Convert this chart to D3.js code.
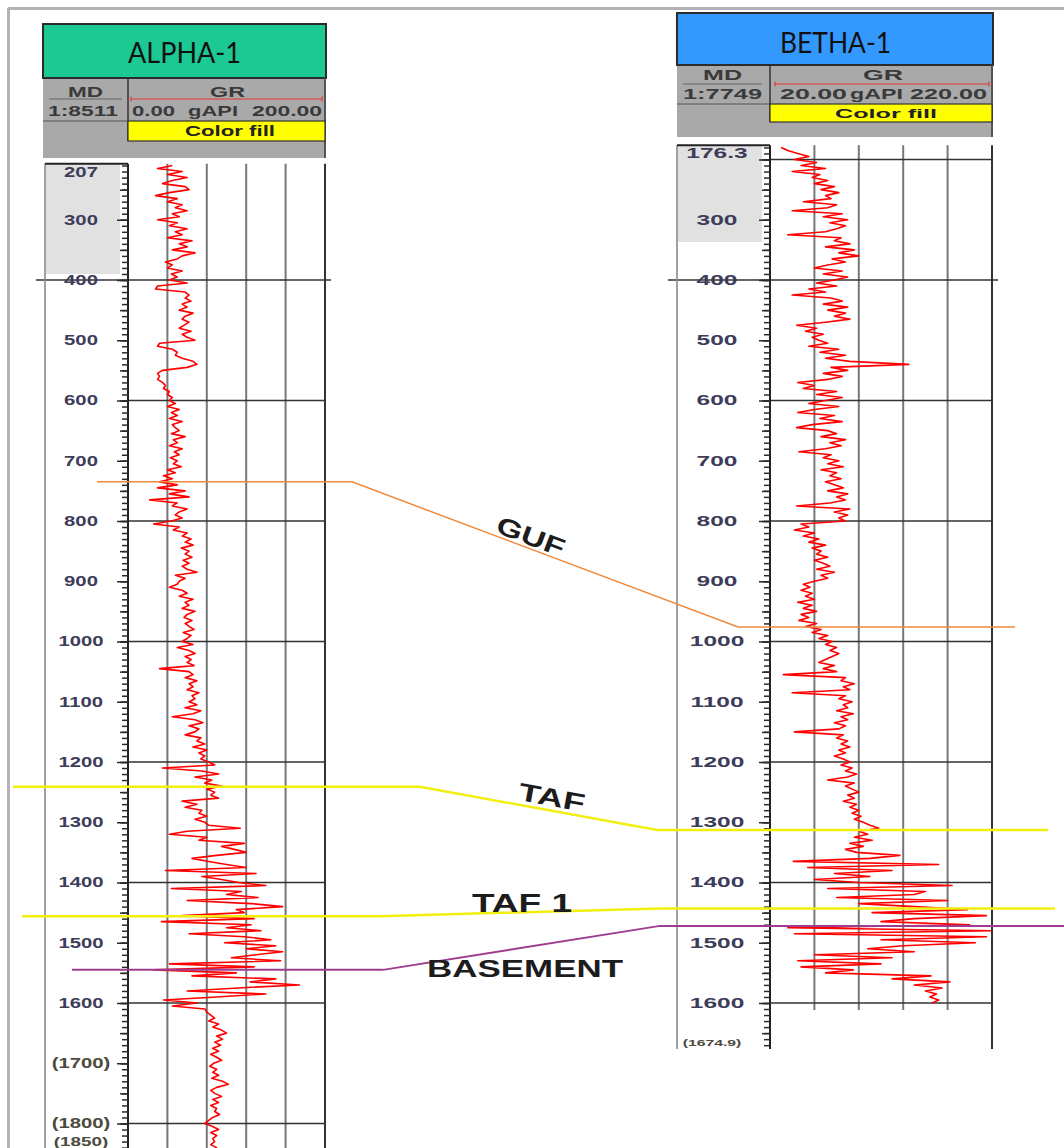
<!DOCTYPE html>
<html>
<head>
<meta charset="utf-8">
<script src="https://cdn.jsdelivr.net/npm/d3@7"></script>
<style>
  html, body { margin: 0; padding: 0; background: #fff; }
  svg { display: block; }
</style>
</head>
<body>
<svg id="chart" width="1064" height="1148"></svg>
<script>
// --- données ---
// GR (gAPI) échantillonné tous les 5 m
const sampleStep = 5
const alphaStart = 210
const alphaGR = [
  45, 30, 55, 40, 60, 45, 35, 58, 62, 42, 28, 50, 40, 55, 48, 60, 45, 52, 30, 50,
  42, 60, 48, 55, 40, 65, 52, 60, 45, 68, 55, 50, 38, 45, 40, 55, 44, 50, 42,
  60, 30, 28, 58, 62, 58, 64, 55, 60, 52, 66, 58, 55, 62, 57, 52, 64, 55, 60, 68,
  32, 30, 45, 50, 48, 55, 66, 70, 60, 35, 30, 32, 30, 35, 38, 36, 42, 40, 45, 42,
  48, 40, 52, 44, 50, 42, 55, 45, 48, 52, 44, 58, 46, 50, 42, 55, 47, 52, 43, 50,
  46, 54, 40, 48, 36, 45, 32,
  50, 30, 58, 42, 62, 22, 50, 45, 60, 52, 48, 55, 44, 26, 52, 46, 60, 55, 64, 58,
  66, 54, 62, 58, 65, 56, 62, 55, 60, 70, 48, 58, 52, 50, 42, 55, 60, 52, 66, 58,
  62, 55, 68, 60, 57, 65, 58, 62, 67, 56, 64, 60, 55,
  66, 50, 62, 68, 58, 64, 60, 67, 32, 62, 66, 58, 70, 62, 66, 60, 72, 65, 68, 62,
  70, 58, 74, 66, 45, 68, 76, 62, 72, 68, 58, 74, 70, 78, 66, 80, 72, 78, 74, 82,
  88, 35, 75, 92, 68, 85, 78, 95, 80, 88, 84, 92, 55, 70, 58, 75, 72, 80, 68, 78,
  82, 114, 60, 42, 80, 72, 118, 95, 108, 120, 90, 65, 82, 100, 120, 38, 130, 75, 95, 112,
  140, 44, 115, 100, 132, 60, 125, 157, 110, 118, 55, 128, 34, 125, 100, 135, 62, 118, 145, 98,
  150, 120, 157, 130, 105, 155, 42, 128, 26, 110, 65, 150, 124, 174, 112, 60, 140, 90, 36, 70,
  45, 78, 80, 84, 88, 82, 92, 86, 95, 100, 90, 96, 88, 94, 86, 92, 84, 90, 95, 87,
  83, 90, 86, 92, 85, 96, 102, 90, 84, 88, 95, 86, 92, 84, 90, 88, 93, 86, 82, 78,
  86, 92, 84, 90, 86, 88, 84, 90, 86, 88
]
const bethaStart = 180
const bethaGR = [
  30, 36, 45, 55, 42, 62, 48, 70, 40, 65, 58, 72, 60, 78, 66, 82, 70, 75, 50, 80,
  72, 40, 85, 68, 90, 74, 88, 80, 70, 36, 84, 78, 92, 70, 96, 82, 100, 76, 88, 72,
  60, 85, 68, 90, 78,
  62, 80, 55, 70, 40, 75, 85, 68, 90, 72, 88, 78, 92, 70, 44, 62, 52, 68, 58, 64,
  72, 55, 82, 65, 88, 70, 92, 145, 75, 90, 68, 85, 72, 45, 60, 50, 80, 62, 85, 70,
  55, 82, 60, 45, 78, 65, 85, 58, 44, 72, 80, 66, 88, 74, 84, 70, 46, 75, 68, 82,
  72, 86, 66, 80, 74, 84, 70, 78, 86, 72, 90, 80, 88, 74, 44, 92, 78, 90, 82, 88,
  48, 55, 42, 60, 50, 64, 55, 70, 58, 66, 62, 72, 60, 68, 74, 62, 78, 66, 72, 60,
  50, 56, 48, 58,
  52, 60, 45, 58, 50, 62, 48, 55, 46, 62, 52, 66, 58, 72, 64, 76, 70, 80, 74, 82,
  76, 70, 64, 78, 68, 80, 32, 88, 84, 96, 86, 92, 40, 88, 82, 94, 86, 90, 80, 95,
  84, 90, 78, 88, 82, 42, 86, 80, 90, 84, 92, 82, 88, 78, 86, 92, 84, 94, 88, 98,
  90, 72, 96, 88, 94, 100, 90, 96, 86, 98, 92, 100, 94, 102, 96, 104, 110, 118, 100, 108,
  96, 112, 92, 104, 88, 98,
  137, 110, 41, 172, 54, 130, 78, 110, 60, 100, 184, 72, 160, 150, 80, 180, 100, 150, 198, 112,
  215, 150, 120, 200, 36, 220, 42, 215, 120, 205, 140, 108, 150, 60, 130, 45, 120, 48, 95, 70,
  165, 130, 182, 150, 175, 160, 170, 164, 172, 166
]

// graduations de profondeur (étiquettes)
const alphaLabelDepths = [207, 300, 400, 500, 600, 700, 800, 900, 1000, 1100, 1200, 1300, 1400, 1500, 1600, 1700, 1800, 1850]
const alphaLabels = ['207', '300', '400', '500', '600', '700', '800', '900', '1000', '1100', '1200', '1300', '1400', '1500', '1600', '(1700)', '(1800)', '(1850)']
const bethaLabelDepths = [176.3, 300, 400, 500, 600, 700, 800, 900, 1000, 1100, 1200, 1300, 1400, 1500, 1600, 1674.9]
const bethaLabels = ['176.3', '300', '400', '500', '600', '700', '800', '900', '1000', '1100', '1200', '1300', '1400', '1500', '1600', '(1674.9)']

// toits des formations (MD) dans chaque puits
const topNames = ['GUF', 'TAF', 'TAF 1', 'BASEMENT']
const topAlpha = [735, 1241, 1456, 1545]
const topBetha = [976, 1313, 1443, 1472]

// --- styles / mise en page ---
const topColors = ['#ef8a3d', '#f2ee10', '#f2ee10', '#9d3d8f']
const topWidths = [1.5, 2.5, 2.5, 2]
// x: début, coude gauche, coude droit, fin
const topPathX = [[97, 352, 738, 1015], [13, 420, 657, 1048], [22, 380, 660, 1055], [72, 383, 660, 1064]]

const wells = [
  { name: 'ALPHA-1', scale: '1:8511', gr: alphaGR, start: alphaStart, domain: [0, 200],
    grText: ['0.00', 'gAPI', '200.00'], top: 207, td: 1850,
    labelDepths: alphaLabelDepths, labels: alphaLabels },
  { name: 'BETHA-1', scale: '1:7749', gr: bethaGR, start: bethaStart, domain: [20, 220],
    grText: ['20.00', 'gAPI', '220.00'], top: 176.3, td: 1674.9,
    labelDepths: bethaLabelDepths, labels: bethaLabels }
]

const layouts = [
  { hx0: 43, hx1: 326, hy0: 24, hy1: 78, color: '#1dc992', titleX: 128, titleLen: 113, titleBase: 63, titleSize: 28,
    gy1: 158, mx0: 45, mx1: 128, tx1: 325, small: 15,
    md: [68, 103, 97], sc: [48, 118, 116], rule: 99, ruleMD: [49, 122], sep: 121,
    gr: [210, 245, 97], grRule: [131, 322], vals: [[132, 175], [188, 238], [252, 322]], valBase: 116,
    fill: [121, 141], fillText: [185, 275, 136],
    shadeY: 274, bottom: 1160, gridBottom: 1160, labelX: 81, labelScale: 1.45, lastShift: -12 },
  { hx0: 677, hx1: 993, hy0: 13, hy1: 65, color: '#3399ff', titleX: 780, titleLen: 111, titleBase: 53, titleSize: 29,
    gy1: 137, mx0: 677, mx1: 770, tx1: 992, small: 14,
    md: [703, 742, 80], sc: [683, 762, 99], rule: 84, ruleMD: [683, 762], sep: 104,
    gr: [863, 903, 80], grRule: [775, 989], vals: [[780, 847], [850, 903], [910, 987]], valBase: 99,
    fill: [104, 122], fillText: [835, 937, 118],
    shadeY: 242, bottom: 1049, gridBottom: 1010, labelX: 717, labelScale: 1.75, smallTD: true, lastShift: -6 }
]

const svg = d3.select('#chart')
const y = d3.scaleLinear().domain([400, 1600]).range([280, 1003])

svg.append('rect').attr('width', 1064).attr('height', 1148).attr('fill', '#fff')

// cadre gris
svg.append('line').attr('x1', 8).attr('x2', 1064).attr('y1', 8.5).attr('y2', 8.5).attr('stroke', '#b3b3b3').attr('stroke-width', 3)
svg.append('line').attr('x1', 8.5).attr('x2', 8.5).attr('y1', 8).attr('y2', 1148).attr('stroke', '#b3b3b3').attr('stroke-width', 3)

// texte étiré à une largeur donnée
function fitText(g, x0, x1, base, str, size, opts = {}) {
  return g.append('text')
    .attr('x', x0).attr('y', base)
    .attr('font-family', opts.family || '"Liberation Sans", Arial, sans-serif')
    .attr('font-weight', opts.weight || 'bold')
    .attr('font-size', size)
    .attr('fill', opts.fill || '#3a3a3a')
    .attr('textLength', x1 - x0)
    .attr('lengthAdjust', 'spacingAndGlyphs')
    .text(str)
}

function drawWell(w, L) {
  const g = svg.append('g')
  const x = d3.scaleLinear().domain(w.domain).range([L.mx1, L.tx1])
  const yTop = y(w.top)

  // --- en-tête ---
  g.append('rect').attr('x', L.hx0).attr('y', L.hy0).attr('width', L.hx1 - L.hx0).attr('height', L.hy1 - L.hy0)
    .attr('fill', L.color).attr('stroke', '#2b2b2b').attr('stroke-width', 2)
  fitText(g, L.titleX, L.titleX + L.titleLen, L.titleBase, w.name, L.titleSize,
    { family: 'Lato, "Open Sans", sans-serif', weight: 'normal', fill: '#111' })

  g.append('rect').attr('x', L.hx0).attr('y', L.hy1 + 1).attr('width', L.hx1 - L.hx0).attr('height', L.gy1 - L.hy1 - 1)
    .attr('fill', '#a9a9a9')
  g.append('line').attr('x1', L.hx1 - 1).attr('x2', L.hx1 - 1).attr('y1', L.hy1).attr('y2', L.gy1)
    .attr('stroke', '#555').attr('stroke-width', 2)
  g.append('line').attr('x1', L.mx1).attr('x2', L.mx1).attr('y1', L.hy1).attr('y2', L.fill[1])
    .attr('stroke', '#333').attr('stroke-width', 1.5)
  g.append('line').attr('x1', L.hx0).attr('x2', L.mx1).attr('y1', L.sep).attr('y2', L.sep)
    .attr('stroke', '#555').attr('stroke-width', 1.2)
  g.append('line').attr('x1', L.ruleMD[0]).attr('x2', L.ruleMD[1]).attr('y1', L.rule).attr('y2', L.rule)
    .attr('stroke', '#666').attr('stroke-width', 1.2)

  fitText(g, L.md[0], L.md[1], L.md[2], 'MD', L.small)
  fitText(g, L.sc[0], L.sc[1], L.sc[2], w.scale, L.small)
  fitText(g, L.gr[0], L.gr[1], L.gr[2], 'GR', L.small)

  // règle rouge de l'échelle GR
  g.append('line').attr('x1', L.grRule[0]).attr('x2', L.grRule[1]).attr('y1', L.rule).attr('y2', L.rule)
    .attr('stroke', '#e8382f').attr('stroke-width', 1.2)
  for (const xr of L.grRule) {
    g.append('line').attr('x1', xr).attr('x2', xr).attr('y1', L.rule - 2.5).attr('y2', L.rule + 2.5)
      .attr('stroke', '#e8382f').attr('stroke-width', 1.2)
  }
  w.grText.forEach((t, i) => fitText(g, L.vals[i][0], L.vals[i][1], L.valBase, t, L.small))

  g.append('rect').attr('x', L.mx1).attr('y', L.fill[0]).attr('width', L.tx1 - L.mx1).attr('height', L.fill[1] - L.fill[0])
    .attr('fill', '#ffff00').attr('stroke', '#333').attr('stroke-width', 1.2)
  fitText(g, L.fillText[0], L.fillText[1], L.fillText[2], 'Color fill', L.small - 1, { fill: '#222' })

  // --- piste ---
  g.append('rect').attr('x', L.mx0 + 1).attr('y', yTop).attr('width', L.mx1 - L.mx0 - 9).attr('height', L.shadeY - yTop)
    .attr('fill', '#e1e1e1')

  // grille verticale
  const grid = d3.range(1, 5).map(i => w.domain[0] + i * (w.domain[1] - w.domain[0]) / 5)
  g.selectAll(null).data(grid).join('line')
    .attr('x1', d => x(d)).attr('x2', d => x(d))
    .attr('y1', yTop).attr('y2', L.gridBottom)
    .attr('stroke', '#777').attr('stroke-width', 2)

  // grille horizontale tous les 200 m
  const hDepths = d3.range(200, Math.min(w.td, 1800) + 1, 200).filter(d => d > w.top)
  g.selectAll(null).data(hDepths).join('line')
    .attr('x1', d => d === 400 ? L.mx0 - 9 : L.mx1)
    .attr('x2', d => d === 400 ? L.tx1 + 6 : L.tx1)
    .attr('y1', d => y(d)).attr('y2', d => y(d))
    .attr('stroke', '#333').attr('stroke-width', 1.6)

  // courbe GR
  const pts = w.gr.map((v, i) => [w.start + i * sampleStep, v])
  g.append('path').datum(pts)
    .attr('d', d3.line().x(d => x(d[1])).y(d => y(d[0])))
    .attr('fill', 'none').attr('stroke', '#ff0000').attr('stroke-width', 1.6)
    .attr('stroke-linejoin', 'round')

  // bordures
  g.append('line').attr('x1', L.mx0).attr('x2', L.mx0).attr('y1', yTop).attr('y2', L.bottom)
    .attr('stroke', '#8a8a8a').attr('stroke-width', 1.6)
  g.append('line').attr('x1', L.mx1).attr('x2', L.mx1).attr('y1', yTop).attr('y2', L.bottom)
    .attr('stroke', '#222').attr('stroke-width', 2)
  g.append('line').attr('x1', L.tx1).attr('x2', L.tx1).attr('y1', yTop).attr('y2', L.bottom)
    .attr('stroke', '#333').attr('stroke-width', 2)
  g.append('line').attr('x1', L.mx0).attr('x2', L.mx1).attr('y1', yTop).attr('y2', yTop)
    .attr('stroke', '#222').attr('stroke-width', 2)

  // graduations
  const tickEnd = Math.floor(w.td / 10) * 10
  const tickSets = [
    { vals: d3.range(Math.ceil(w.top / 10) * 10, tickEnd + 1, 10), size: 6 },
    { vals: d3.range(Math.ceil(w.top / 50) * 50, tickEnd + 1, 50), size: 8 },
    { vals: d3.range(Math.ceil(w.top / 100) * 100, tickEnd + 1, 100), size: 11 }
  ]
  for (const t of tickSets) {
    const ax = d3.axisLeft(y).tickValues(t.vals).tickSize(t.size).tickFormat('')
    const ga = g.append('g').attr('transform', `translate(${L.mx1},0)`).call(ax)
    ga.select('.domain').remove()
    ga.selectAll('line').attr('stroke', '#2a2a2a').attr('stroke-width', 1.5)
  }

  // étiquettes de profondeur
  const lab = d3.axisLeft(y).tickValues(w.labelDepths).tickSize(0).tickFormat((d, i) => w.labels[i])
  const gl = g.append('g').attr('transform', `translate(${L.mx1},0)`).call(lab)
  gl.select('.domain').remove()
  const nLab = w.labels.length
  const isLast = i => i === nLab - 1
  gl.selectAll('text')
    .attr('font-family', '"Liberation Sans", Arial, sans-serif')
    .attr('font-weight', 'bold')
    .attr('font-size', (d, i) => (L.smallTD && isLast(i)) ? 9 : (isLast(i) ? 13 : 14))
    .attr('fill', (d, i) => w.labels[i].startsWith('(') ? '#4b4a3c' : '#3d3d5a')
    .attr('text-anchor', 'middle')
    .attr('transform', `scale(${L.labelScale},1)`)
    .attr('x', (d, i) => (L.smallTD && isLast(i)) ? (712 - L.mx1) / L.labelScale : (L.labelX - L.mx1) / L.labelScale)
    .attr('y', (d, i) => i === 0 ? 8 : isLast(i) ? L.lastShift : 0)
}

wells.forEach((w, i) => drawWell(w, layouts[i]))

// --- corrélations entre puits ---
const topsG = svg.append('g')
topNames.forEach((name, i) => {
  const px = topPathX[i]
  const ya = y(topAlpha[i]), yb = y(topBetha[i])
  topsG.append('path')
    .datum([[px[0], ya], [px[1], ya], [px[2], yb], [px[3], yb]])
    .attr('d', d3.line())
    .attr('fill', 'none')
    .attr('stroke', topColors[i])
    .attr('stroke-width', topWidths[i])
})

// étiquettes des formations
function slopeAngle(i) {
  const px = topPathX[i]
  return Math.atan2(y(topBetha[i]) - y(topAlpha[i]), px[2] - px[1]) * 180 / Math.PI
}
const labelPlaces = [
  { cx: 531, cy: 536, len: 71, size: 25, rot: slopeAngle(0) },
  { cx: 552, cy: 797, len: 67, size: 25, rot: slopeAngle(1) },
  { cx: 522, cy: 902.5, len: 100, size: 26, rot: 0 },
  { cx: 525, cy: 968.5, len: 196, size: 24, rot: 0 }
]
topNames.forEach((name, i) => {
  const p = labelPlaces[i]
  const gt = topsG.append('g').attr('transform', `translate(${p.cx},${p.cy}) rotate(${p.rot})`)
  fitText(gt, -p.len / 2, p.len / 2, p.size * 0.36, name, p.size, { fill: '#1c1c1c' })
})
</script>
</body>
</html>
